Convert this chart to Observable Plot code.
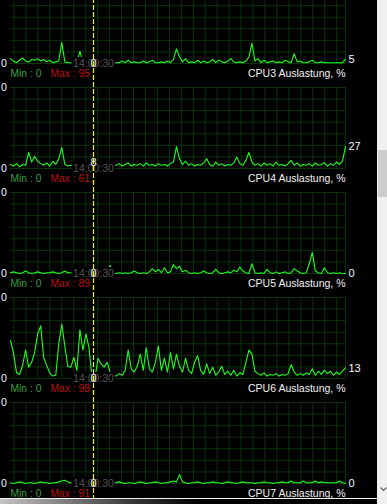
<!DOCTYPE html>
<html><head><meta charset="utf-8">
<script src="https://cdn.jsdelivr.net/npm/d3@7"></script>
<script src="https://cdn.jsdelivr.net/npm/@observablehq/plot@0.6"></script>
<style>
html,body{margin:0;padding:0;background:#000;width:387px;height:504px;overflow:hidden;}
#stage{position:relative;width:387px;height:504px;overflow:hidden;background:#000;}
.panel{position:absolute;left:0;}
.panel svg{display:block;}
#scroll{position:absolute;left:377px;top:0;width:10px;height:504px;background:#f0f0f0;}
#thumb{position:absolute;left:378px;top:150px;width:9px;height:47px;background:#cdcdcd;}
#bottom{position:absolute;left:0;top:498px;width:377px;height:6px;border-top:1px solid #f2f2f2;box-sizing:border-box;background:linear-gradient(to right,#c4c4c4 0px,#3a3a3a 130px,#000 200px);}
#arrow{position:absolute;left:380px;top:487px;}
</style>
</head><body>
<div id="stage">
  <div id="scroll"></div><div id="thumb"></div>
  <svg id="arrow" width="7" height="5"><polyline points="0.5,0.5 3.5,3.5 6.5,0.5" fill="none" stroke="#606060" stroke-width="1.2"/></svg>
  <div id="bottom"></div>
</div>
<script>
// ---- data (percent load per sample) ----
const cpuNames = ["CPU3", "CPU4", "CPU5", "CPU6", "CPU7"];
const seriesTitle = "Auslastung, %";
const timeLabel = "14:00:30";
const minValues = [0, 0, 0, 0, 0];
const maxValues = [95, 61, 89, 98, 91];
const cursorValues = [0, 8, 0, 0, 0];
const scaleLabels = ["0", "0"]; // bottom, top (top clipped at window edge)

const cpu3 = [6,3,1,4,7,3,2,5,4,6, 3,5,2,4,1,2,3,26,2,1, 1,1,1,15,1,2,1,1,3,1,
  2,1,1,2,1,1,1,3,1,4, 1,2,1,1,3,1,2,4,1,1, 2,1,3,1,5,18,8,2,6,1,
  2,1,4,1,3,1,2,5,1,4, 2,1,3,6,2,1,2,1,3,8, 25,3,6,1,4,1,2,3,1,2,
  1,4,2,1,12,2,3,1,1,2, 4,1,1,2,1,1,1,1,1,1, 1,5];
const cpu4 = [5,3,6,2,5,4,20,8,15,9, 6,4,7,3,9,5,12,26,5,3, 4,2,3,2,4,3,5,8,7,4,
  3,5,2,4,3,4,6,3,5,7, 3,5,4,6,3,7,4,5,3,6, 4,5,3,6,8,27,12,5,9,4,
  6,3,5,4,7,12,5,3,8,4, 6,3,5,4,7,14,6,4,10,20, 8,4,6,3,7,4,6,3,8,4,
  5,3,6,10,4,7,3,5,4,6, 3,7,4,5,7,3,6,4,8,5, 9,27];
const cpu5 = [1,2,1,0,1,3,1,0,1,2, 1,0,1,1,2,1,0,1,3,1, 1,1,0,1,0,1,0,0,0,1,
  0,1,0,10,1,0,1,0,1,0, 1,3,1,0,1,0,2,6,2,5, 1,7,1,2,11,6,9,2,4,1,
  0,1,0,1,3,1,0,1,5,1, 0,1,2,1,4,2,8,3,1,0, 12,1,0,1,0,5,1,0,2,0,
  1,2,0,1,6,3,1,0,1,12, 26,3,1,0,7,1,0,1,0,1, 0,0];
const cpu6 = [47,31,7,5,16,35,14,20,32,55, 65,26,16,7,3,4,43,67,40,15, 14,26,10,60,35,55,38,2,1,25,
  18,14,20,8,4,3,6,4,10,35, 12,8,15,30,10,38,12,8,20,40, 10,25,8,32,12,30,15,8,25,10,
  6,20,28,10,5,18,6,14,4,8, 15,5,9,4,10,3,7,5,20,35, 30,9,6,4,7,3,5,4,6,3,
  5,4,6,17,8,4,6,4,7,5, 12,4,9,5,10,6,9,4,8,5, 9,13];
const cpu7 = [1,0,1,2,1,0,1,1,0,1, 2,1,1,0,1,1,2,3,4,2, 1,1,0,1,1,0,1,0,0,1,
  0,1,1,0,1,1,2,1,0,1, 1,0,1,2,1,0,1,1,2,1, 0,1,1,2,3,2,11,2,1,0,
  1,1,2,1,0,1,1,2,1,1, 0,1,2,1,1,0,1,2,1,1, 1,0,1,1,2,1,1,0,1,1,
  2,1,1,3,1,1,1,3,1,1, 1,3,1,2,1,1,1,1,1,3, 1,0];
const cpuSeries = [cpu3, cpu4, cpu5, cpu6, cpu7];

// ---- layout / style ----
const N = cpu3.length;
const cursorIndex = 27.5;
const W = 377, MT = 10, MB = 14, FRAME = 81, H = MT + FRAME + MB;
const firstBaseline = 63.3, panelStep = 104.9;
const gridColor = "#0a330a", lineColor = "#1eff1e";
const font = "'Liberation Sans', Arial, sans-serif";
const xGrid = [...d3.range(1.16, N - 1, 3.96), N - 1];
const yGrid = d3.range(0, 8).map(k => k * 100 / 7);

const stage = document.getElementById("stage");
cpuSeries.forEach((vals, p) => {
  const data = vals.map((v, i) => ({i, v}));
  const last = data[data.length - 1];
  const scaleMarks = p === 0 ? [0] : [0, 100]; // top label of first panel is scrolled out of view
  const chart = Plot.plot({
    width: W, height: H,
    marginLeft: 10, marginRight: 32, marginTop: MT, marginBottom: MB,
    x: {domain: [0, N - 1], axis: null},
    y: {domain: [0, 100], axis: null},
    style: {background: "transparent", fontFamily: font, overflow: "visible"},
    marks: [
      Plot.gridX(xGrid, {stroke: gridColor, strokeOpacity: 1}),
      Plot.gridY(yGrid, {stroke: gridColor, strokeOpacity: 1}),
      Plot.lineY(data, {x: "i", y: "v", stroke: lineColor, strokeWidth: 1.1}),
      Plot.rect([0], {x1: cursorIndex - 7.1, x2: cursorIndex + 7.3, y1: -6.5, y2: 7.5, fill: "#000"}),
      Plot.text([timeLabel], {x: cursorIndex, y: 0, text: d => d, fill: "#555", fontSize: 10.5, textAnchor: "middle"}),
      Plot.ruleX([cursorIndex], {stroke: "#f5f500", strokeWidth: 1.2, strokeDasharray: "5,2", insetTop: -MT - 2, insetBottom: -MB - 2}),
      Plot.text([cursorValues[p]], {x: cursorIndex, y: d => d, text: d => String(d), fill: "#f4f6ff", fontSize: 11, textAnchor: "middle"}),
      Plot.text([last], {x: "i", y: "v", text: d => String(d.v), fill: "#f4f6ff", fontSize: 11, textAnchor: "start", dx: 3}),
      Plot.text(scaleMarks, {y: d => d, frameAnchor: "left", text: (d, i) => scaleLabels[i], fill: "#f4f6ff", fontSize: 10.5, textAnchor: "start", dx: -9.5}),
      Plot.text([`Min : ${minValues[p]}`], {frameAnchor: "bottom-left", text: d => d, fill: "#3c9e3c", fontSize: 10.3, textAnchor: "start", dy: 13}),
      Plot.text([`Max : ${maxValues[p]}`], {frameAnchor: "bottom-left", text: d => d, fill: "#b81010", fontSize: 10.3, textAnchor: "start", dx: 40, dy: 13}),
      Plot.text([`${cpuNames[p]} ${seriesTitle}`], {frameAnchor: "bottom-right", text: d => d, fill: "#f2f2f2", fontSize: 10.5, textAnchor: "end", dy: 13})
    ]
  });
  const div = document.createElement("div");
  div.className = "panel";
  div.style.top = (firstBaseline + p * panelStep - FRAME - MT) + "px";
  div.appendChild(chart);
  stage.insertBefore(div, document.getElementById("scroll"));
});
</script>
</body></html>
